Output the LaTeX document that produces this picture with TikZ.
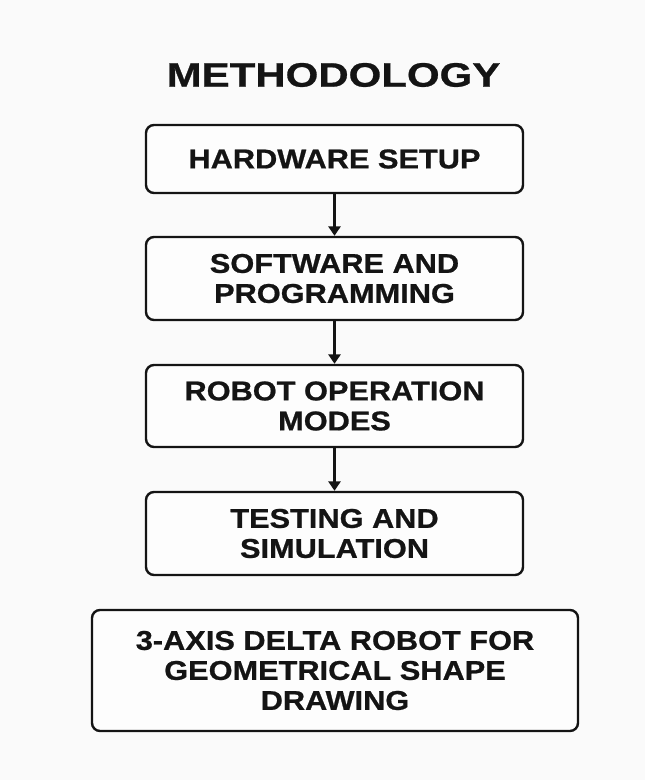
\documentclass[tikz,border=0pt]{standalone}
\usepackage{fontspec}
\setmainfont{Liberation Sans}[BoldFeatures={FakeStretch=1.13,FakeBold=0.8}]
\newfontfamily\titlefont{Liberation Sans Bold}[FakeStretch=1.24,FakeBold=0.8]
\usetikzlibrary{arrows.meta}
\definecolor{bg}{RGB}{250,250,250}
\definecolor{ink}{RGB}{20,20,20}
\tikzset{
  stepbox/.style={draw=ink, line width=1.8pt, rounded corners=6pt, fill=white!60!bg,
    minimum width=282.75pt, align=center, inner sep=0pt, text=ink,
    font=\bfseries\fontsize{20.4}{22.5}\selectfont},
  flow/.style={draw=ink, line width=1.6pt, -{Triangle[width=9pt,length=7pt]}}
}
\begin{document}
\begin{tikzpicture}[x=0.75pt,y=-0.75pt]
\fill[bg] (0,0) rectangle (645,780);
\useasboundingbox (0,0) rectangle (645,780);
\node[text=ink, font=\titlefont\fontsize{25.4}{30}\selectfont] (title) at (333.5,75) {METHODOLOGY};
\node[stepbox, minimum height=51pt] (hw) at (334.5,159) {HARDWARE SETUP};
\node[stepbox, minimum height=62.25pt] (sw) at (334.5,278.5) {SOFTWARE AND\\PROGRAMMING};
\node[stepbox, minimum height=61.5pt] (rom) at (334.5,406) {ROBOT OPERATION\\MODES};
\node[stepbox, minimum height=62.25pt] (ts) at (334.5,533.5) {TESTING AND\\SIMULATION};
\node[stepbox, minimum width=364.5pt, minimum height=90.75pt] (dr) at (335,670.5) {3-AXIS DELTA ROBOT FOR\\GEOMETRICAL SHAPE\\DRAWING};
\draw[flow] (hw) -- (sw);
\draw[flow] (sw) -- (rom);
\draw[flow] (rom) -- (ts);
\end{tikzpicture}
\end{document}
